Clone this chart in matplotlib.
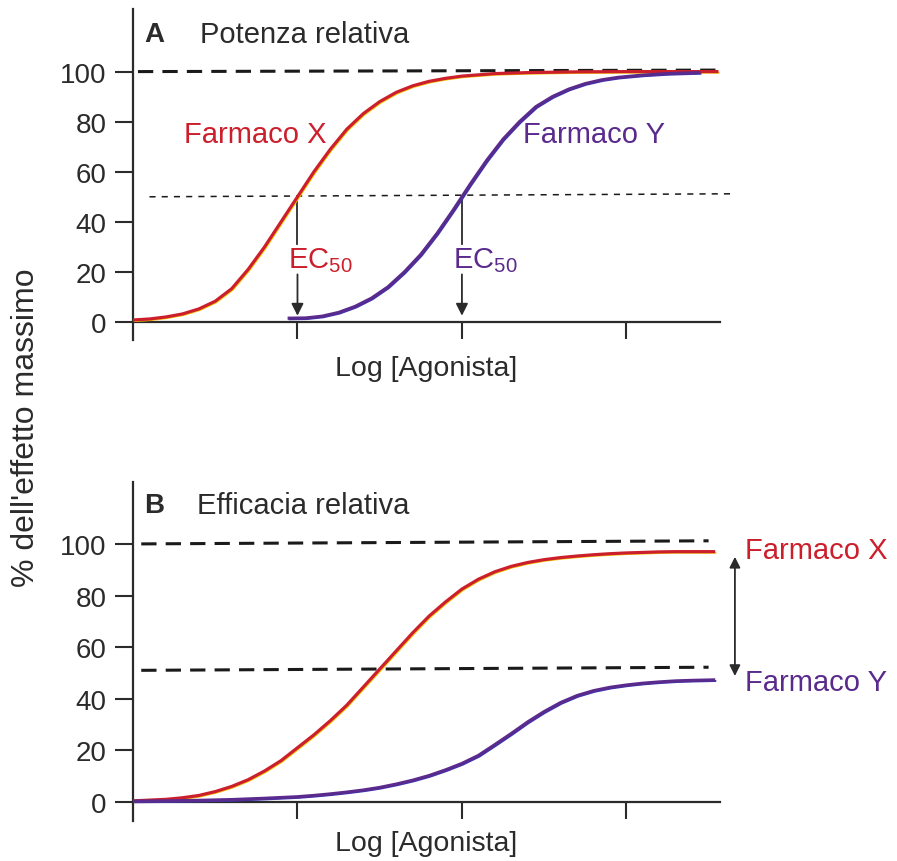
import matplotlib
matplotlib.use("Agg")
from matplotlib import pyplot as plt
from matplotlib.transforms import offset_copy

plt.rcParams['font.family'] = ['Liberation Sans', 'DejaVu Sans']
plt.rcParams['mathtext.default'] = 'regular'

# panel A - potenza relativa
ax_x = [0.0, 0.1, 0.2, 0.3, 0.4, 0.5, 0.6, 0.7, 0.8, 0.9, 1.0, 1.1, 1.2, 1.3, 1.4,
        1.5, 1.6, 1.7, 1.8, 1.9, 2.0, 2.2, 2.4, 2.7, 3.0, 3.3, 3.56]
ay_x = [0.8, 1.2, 2.0, 3.2, 5.2, 8.3, 13.3, 21.0, 30.0, 40.0, 50.0, 60.0, 69.0, 77.0, 83.2,
        88.0, 91.7, 94.3, 96.1, 97.3, 98.2, 99.2, 99.6, 99.9, 100.0, 100.0, 100.0]
ax_y = [0.94, 1.05, 1.15, 1.25, 1.35, 1.45, 1.55, 1.65, 1.75, 1.85, 1.95, 2.0, 2.05,
        2.15, 2.25, 2.35, 2.45, 2.55, 2.65, 2.75, 2.85, 2.95, 3.1, 3.25, 3.45]
ay_y = [1.5, 1.6, 2.3, 3.8, 6.2, 9.5, 14.0, 20.0, 27.0, 35.5, 45.0, 50.0, 55.0,
        64.5, 73.0, 80.0, 86.0, 90.0, 93.0, 95.2, 96.7, 97.7, 98.6, 99.2, 99.6]
ec50_a = [1.0, 2.0]

# panel B - efficacia relativa
bx_x = [0.0, 0.1, 0.2, 0.3, 0.4, 0.5, 0.6, 0.7, 0.8, 0.9, 1.0, 1.1, 1.2, 1.3, 1.4, 1.5,
        1.6, 1.7, 1.8, 1.9, 2.0, 2.1, 2.2, 2.3, 2.4, 2.5, 2.6, 2.7, 2.8, 2.9, 3.0, 3.1,
        3.2, 3.3, 3.4, 3.54]
by_x = [0.4, 0.7, 1.0, 1.6, 2.5, 4.0, 6.0, 8.6, 12.0, 16.0, 21.0, 26.0, 31.5, 37.5, 44.5,
        51.5, 58.5, 65.5, 72.0, 77.5, 82.5, 86.3, 89.2, 91.3, 92.8, 93.9, 94.7, 95.3, 95.8,
        96.2, 96.5, 96.7, 96.9, 97.0, 97.0, 97.0]
bx_y = [0.0, 0.2, 0.4, 0.6, 0.8, 1.0, 1.1, 1.2, 1.3, 1.4, 1.5, 1.6, 1.7, 1.8, 1.9, 2.0,
        2.1, 2.2, 2.3, 2.4, 2.5, 2.6, 2.7, 2.8, 2.9, 3.0, 3.1, 3.2, 3.3, 3.4, 3.54]
by_y = [0.3, 0.4, 0.6, 0.9, 1.4, 2.0, 2.5, 3.1, 3.8, 4.6, 5.6, 6.9, 8.4, 10.2, 12.4, 14.9,
        18.0, 22.2, 26.5, 31.0, 35.0, 38.5, 41.2, 43.1, 44.4, 45.3, 46.0, 46.5, 46.9, 47.1,
        47.3]
max_b = [100, 51]

yticks = [0, 20, 40, 60, 80, 100]
xticks = [1, 2, 3]

RED = '#cc1f2c'
YEL = '#f5c400'
PUR = '#5a2a8c'
BLU = '#3a36b4'
INK = '#2b2b2b'

fig = plt.figure(figsize=(8.97, 8.62), dpi=100)
axA = fig.add_axes([0.1483, 0.6044, 0.6545, 0.384])
axB = fig.add_axes([0.1483, 0.0464, 0.6545, 0.3933])


def setup(ax, ylo, yhi, label_y):
    ax.set_xlim(0, 3.57)
    ax.set_ylim(ylo, yhi)
    for s in ['top', 'right']:
        ax.spines[s].set_visible(False)
    ax.spines['bottom'].set_position(('data', 0))
    ax.spines['left'].set_linewidth(1.6)
    ax.spines['bottom'].set_linewidth(1.6)
    ax.spines['left'].set_color(INK)
    ax.spines['bottom'].set_color(INK)
    ax.set_yticks(yticks)
    ax.set_xticks(xticks)
    ax.set_xticklabels([])
    ax.tick_params(axis='y', direction='out', length=13, width=1.5, pad=6,
                   labelsize=20, colors=INK)
    ax.tick_params(axis='x', direction='out', length=12, width=1.5, colors=INK)
    ax.text(0.5, label_y, 'Log [Agonista]', transform=ax.transAxes, ha='center',
            va='center', fontsize=20.5, color=INK)


def curve(ax, xs, ys, col, edge):
    shift = offset_copy(ax.transData, fig=fig, x=0.8, y=-0.8, units='points')
    ax.plot(xs, ys, color=edge, lw=1.4, transform=shift, solid_capstyle='butt',
            solid_joinstyle='round', zorder=3)
    ax.plot(xs, ys, color=col, lw=2.3, solid_capstyle='butt', solid_joinstyle='round',
            zorder=4)


setup(axA, -7.2, 125, -0.085)
setup(axB, -7.4, 124, -0.064)

# --- A ---
axA.plot([0.03, 3.55], [100, 100.6], ls=(0, (5, 3)), color='#1a1a1a', lw=2.2, zorder=2)
axA.plot([0.1, 3.65], [50, 51.2], ls=(0, (4, 4)), color='#1a1a1a', lw=1.1, zorder=2,
         clip_on=False)
curve(axA, ax_x, ay_x, RED, YEL)
curve(axA, ax_y, ay_y, PUR, BLU)
for xe, col in zip(ec50_a, [RED, PUR]):
    axA.plot([xe, xe], [50, 31], color=INK, lw=1.3, zorder=2)
    axA.annotate('', xy=(xe, 2.5), xytext=(xe, 19),
                 arrowprops=dict(arrowstyle='-|>', color=INK, lw=1.3,
                                 mutation_scale=18, shrinkA=0, shrinkB=0))
    axA.text(xe - 0.055, 25, 'EC$_{50}$', color=col, fontsize=21, ha='left', va='center')
axA.text(0.31, 75, 'Farmaco X', color=RED, fontsize=21, ha='left', va='center')
axA.text(2.37, 75, 'Farmaco Y', color=PUR, fontsize=21, ha='left', va='center')
axA.text(0.07, 115, 'A', fontsize=20, fontweight='bold', color=INK, va='center')
axA.text(0.41, 115, 'Potenza relativa', fontsize=21, color=INK, va='center')

# --- B ---
for m in max_b:
    axB.plot([0.05, 3.5], [m, m + 1.2], ls=(0, (5, 3)), color='#1a1a1a', lw=2.2, zorder=2)
curve(axB, bx_x, by_x, RED, YEL)
curve(axB, bx_y, by_y, PUR, BLU)
axB.annotate('', xy=(3.66, 95), xytext=(3.66, 48.8), annotation_clip=False,
             arrowprops=dict(arrowstyle='<|-|>', color=INK, lw=1.3,
                             mutation_scale=16, shrinkA=0, shrinkB=0))
axB.text(3.72, 97.5, 'Farmaco X', color=RED, fontsize=21, ha='left', va='center',
         clip_on=False)
axB.text(3.72, 46.5, 'Farmaco Y', color=PUR, fontsize=21, ha='left', va='center',
         clip_on=False)
axB.text(0.07, 115, 'B', fontsize=20, fontweight='bold', color=INK, va='center')
axB.text(0.39, 115, 'Efficacia relativa', fontsize=21, color=INK, va='center')

fig.text(26 / 897, 1 - 428 / 862, "% dell'effetto massimo", rotation=90, ha='center',
         va='center', fontsize=23, color=INK)

fig.savefig('out.png', dpi=100)
